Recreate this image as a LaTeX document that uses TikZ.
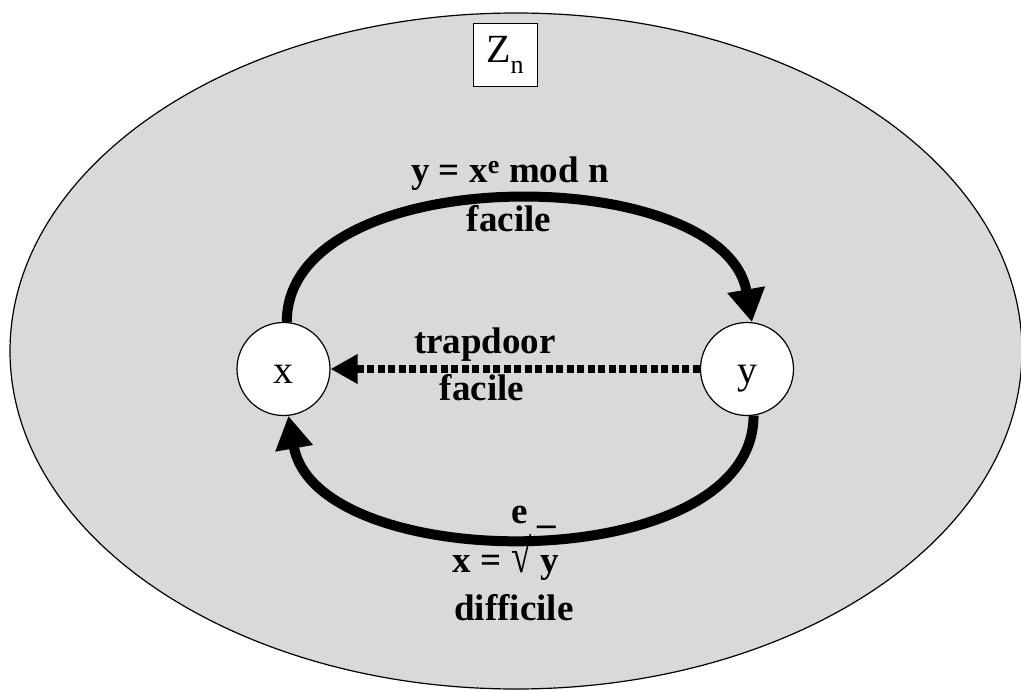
\documentclass[tikz,border=0pt]{standalone}
\usepackage{fontspec}
\setmainfont[Ligatures=NoCommon]{Liberation Serif}
\usepackage{tikz}
\usetikzlibrary{arrows.meta,shapes.geometric,positioning}
\tikzset{
    zone/.style={ellipse, draw, line width=1.2pt, fill=black!15, minimum width=1012pt, minimum height=676pt, inner sep=0pt},
    elem/.style={circle, draw, line width=1.2pt, fill=white, minimum size=93pt, inner sep=0pt, text height=28pt, text depth=0pt, font=\fontsize{40}{42}\selectfont},
    setbox/.style={rectangle, draw, line width=0.8pt, fill=white, minimum width=64pt, minimum height=63pt, inner sep=0pt, font=\fontsize{40}{44}\selectfont},
    lbl/.style={inner sep=0pt, anchor=base, font=\fontsize{37}{40}\selectfont\bfseries},
    easy/.style={line width=10pt, -{Triangle[length=33pt,width=36pt]}},
    trap/.style={line width=8pt, dash pattern=on 7pt off 3.5pt, -{Triangle[length=27pt,width=28pt]}},
}

\begin{document}
\begin{tikzpicture}[x=1pt, y=-1pt]
    \useasboundingbox (0,0) rectangle (1021,690);
    \node[zone] (zn) at (516,351) {};
    \node[setbox] (zname) at (505,54.5) {Z\raisebox{-11pt}{\fontsize{26}{26}\selectfont n}};
    \node[elem] (x) at (283.5,369) {x};
    \node[elem] (y) at (747,369) {y};

    \node[lbl] (fwd) at (510,183) {y = x\textsuperscript{e} mod n};
    \node[lbl] (fwdcost) at (509,232) {facile};
    \node[lbl] (td) at (485,353) {trapdoor};
    \node[lbl] (tdcost) at (482,400) {facile};
    \node[lbl] (rootidx) at (534,523) {e \_};
    \node[lbl] (inv) at (506,572) {x = \scalebox{1}[1.3]{√} y};
    \node[lbl] (invcost) at (514,620) {difficile};

    \draw[easy] (x.86) to[out=90, in=100, looseness=0.9] (y.84);
    \draw[trap] (y.west) -- (x.east);
    \draw[easy] (y.-82) to[out=-90, in=-80, looseness=0.9] (x.-84);
\end{tikzpicture}
\end{document}
